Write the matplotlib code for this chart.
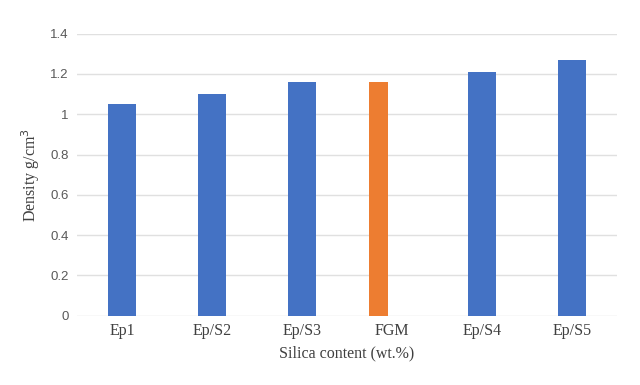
import matplotlib
matplotlib.use("Agg")
import matplotlib.pyplot as plt

categories = ["Ep1", "Ep/S2", "Ep/S3", "FGM", "Ep/S4", "Ep/S5"]
density = [1.05, 1.10, 1.16, 1.16, 1.21, 1.27]
colors = ["#4472C4", "#4472C4", "#4472C4", "#ED7D31", "#4472C4", "#4472C4"]
yticks = [0, 0.2, 0.4, 0.6, 0.8, 1.0, 1.2, 1.4]
ytick_labels = ["0", "0.2", "0.4", "0.6", "0.8", "1", "1.2", "1.4"]

fig = plt.figure(figsize=(6.4, 3.85), dpi=100)
ax = fig.add_axes([0.1203, 0.18, 0.8437, 0.7325])

xs = list(range(len(categories)))
for i, (c, v, col) in enumerate(zip(categories, density, colors)):
    if c == "FGM":
        ax.bar(i - 0.15, v, width=0.21, color=col, zorder=3)
    else:
        ax.bar(i, v, width=0.31, color=col, zorder=3)

ax.set_xlim(-0.5, 5.5)
ax.set_ylim(0, 1.4)
ax.set_yticks(yticks)
ax.set_yticklabels(ytick_labels, fontfamily="Liberation Sans", fontsize=9.5, color="#595959")
ax.set_xticks(xs)
ax.set_xticklabels(categories, fontfamily="Liberation Serif", fontsize=11.5, color="#404040")
ax.tick_params(axis="both", length=0)
ax.tick_params(axis="y", pad=6)
ax.tick_params(axis="x", pad=5)
ax.grid(axis="y", color="#E0E0E0", linewidth=1, zorder=0)
for s in ax.spines.values():
    s.set_visible(False)

ax.set_xlabel("Silica content (wt.%)", fontfamily="Liberation Serif", fontsize=11.5, color="#404040", labelpad=5)
ax.set_ylabel("Density g/cm$^3$", fontfamily="Liberation Serif", fontsize=11.5, color="#404040", labelpad=6)

fig.savefig("out.png", dpi=100)
